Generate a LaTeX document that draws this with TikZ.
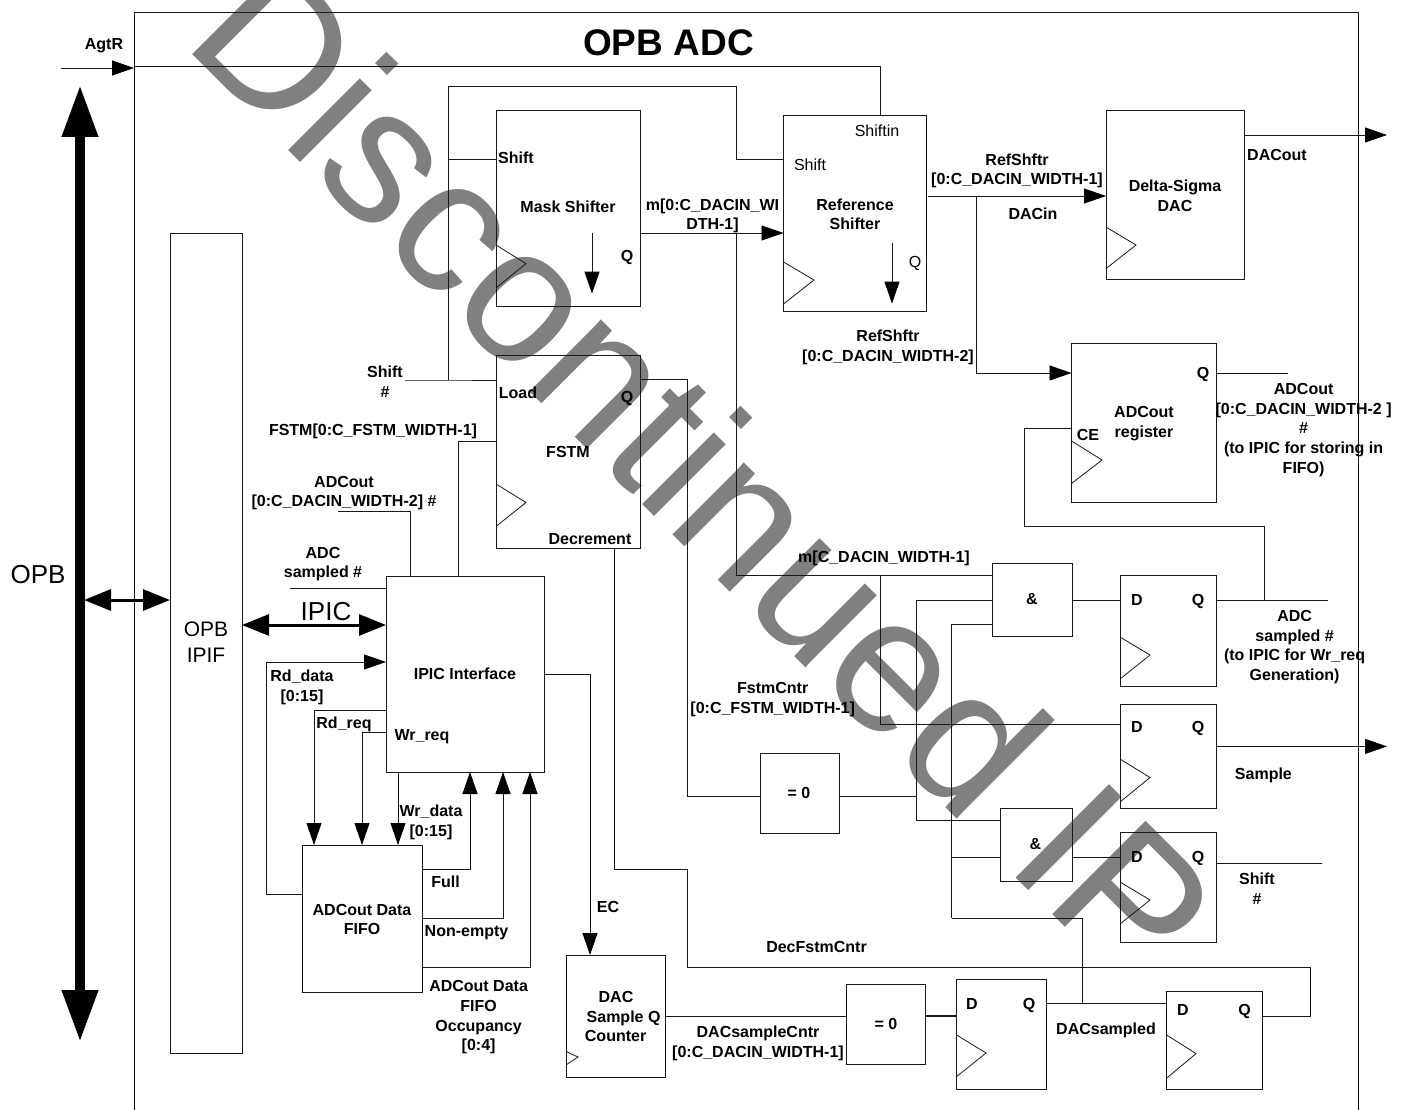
\documentclass[tikz,border=0pt]{standalone}
\usepackage{fontspec}
\setmainfont{Liberation Sans}
\usetikzlibrary{arrows.meta}
\tikzset{
  blockbox/.style={draw=black!90,line width=0.9pt,inner sep=0pt,outer sep=0pt,fill=none},
  wire/.style={draw=black!90,line width=0.9pt,line join=miter},
  tipwire/.style={wire,-{Triangle[length=22pt,width=15pt,sep=0pt,black]}},
  tick/.style={draw=black!90,line width=0.8pt},
  boldbus/.style={draw=black,line width=3pt,{Triangle[length=27pt,width=21pt,sep=0pt]}-{Triangle[length=27pt,width=21pt,sep=0pt]}},
  lb/.style={inner sep=0pt,outer sep=0pt,font=\fontsize{16}{19.7}\selectfont\bfseries,text=black,text height=11.5pt,text depth=0pt},
  lbm/.style={inner sep=0pt,outer sep=0pt,font=\fontsize{16}{19.7}\selectfont\bfseries,text=black,align=center,yshift=-1.5pt},
  lr/.style={inner sep=0pt,outer sep=0pt,font=\fontsize{16}{19.7}\selectfont,text=black,text height=11.5pt,text depth=0pt},
  big/.style={inner sep=0pt,outer sep=0pt,font=\fontsize{26}{26}\selectfont,text=black,text height=18.6pt,text depth=0pt},
  bigm/.style={inner sep=0pt,outer sep=0pt,font=\fontsize{21}{26}\selectfont,text=black,align=center},
}
\newcommand\blk[5]{%
  \pgfmathsetmacro\bw{#4-#2}\pgfmathsetmacro\bh{#5-#3}%
  \pgfmathsetmacro\bcx{(#2+#4)/2}\pgfmathsetmacro\bcy{(#3+#5)/2}%
  \node[blockbox,minimum width=\bw pt,minimum height=\bh pt] (#1) at (\bcx,\bcy) {};}
\newcommand\clk[5]{\draw[tick] (#1.west |- 0,#2) -- (#3,#4) -- (#1.west |- 0,#5);}
\begin{document}
\begin{tikzpicture}[x=1pt,y=-1pt]
\useasboundingbox (0,0) rectangle (1408,1110);
\fill[white] (0,0) rectangle (1408,1110);
\begin{scope}
\clip (0,0) rectangle (1408,1110);
\node[anchor=base west,rotate=-45,inner sep=0pt,text=black!50,font=\fontsize{192}{192}\selectfont] (wm) at (181,43) {Discontinued IP};
\end{scope}

% enclosing block
\coordinate (oa) at (134,1110); \coordinate (ob) at (134,12.5);
\coordinate (oc) at (1358,12.5); \coordinate (od) at (1358,1110);
\draw[wire] (oa) -- (ob) -- (oc) -- (od);
\node[inner sep=0pt,font=\fontsize{37}{37}\selectfont\bfseries,text height=26.5pt,text depth=0pt] (title) at (668.5,42) {OPB ADC};

% blocks
\blk{ipif}{170}{233}{242}{1053}
\blk{mask}{496}{110.7}{640}{306.4}
\blk{ref}{783.5}{115}{926}{311}
\blk{dac}{1106}{110.7}{1244}{279.6}
\blk{adcreg}{1071.5}{343}{1216}{502}
\blk{fstm}{496}{355}{640}{548}
\blk{ipic}{386}{576.5}{544}{772}
\blk{fifo}{302}{845}{422}{992}
\blk{cnt}{566}{955}{665.6}{1077.5}
\blk{zeroa}{760}{753}{839.5}{833.6}
\blk{zerob}{846.7}{984}{925.7}{1064.6}
\blk{anda}{992.5}{563}{1072}{636.5}
\blk{andb}{1000}{808}{1072}{881.4}
\blk{ffa}{1120}{575}{1216}{686}
\blk{ffb}{1120}{704}{1216}{808}
\blk{ffc}{1120}{832.5}{1216}{942}
\blk{ffd}{956}{979.6}{1046}{1089}
\blk{ffe}{1166}{991.4}{1262}{1089}

% clock marks
\clk{mask}{245}{526}{263.6}{288}
\clk{ref}{262}{814}{280}{304}
\clk{dac}{227}{1136}{245}{268.6}
\clk{adcreg}{441}{1102}{460}{483.5}
\clk{fstm}{484}{526}{502.5}{526.4}
\clk{cnt}{1051.4}{578}{1057}{1065}
\clk{ffa}{637}{1150}{655}{679}
\clk{ffb}{759}{1150}{777.5}{802}
\clk{ffc}{882}{1150}{900}{924}
\clk{ffd}{1034.6}{986}{1053}{1077}
\clk{ffe}{1034.6}{1196}{1053.6}{1078.6}

% bus arrows
\coordinate (bust) at (80,85); \coordinate (busb) at (80,1042);
\draw[line width=10pt,{Triangle[length=52pt,width=34pt,sep=0pt]}-{Triangle[length=52pt,width=34pt,sep=0pt]}] (bust) -- (busb);
\coordinate (busj) at (84,600);
\draw[boldbus] (busj) -- (ipif.west |- 0,600);
\draw[boldbus] (ipif.east |- 0,625) -- (ipic.west |- 0,625);

% free ends
\coordinate (agts) at (61,68);
\coordinate (agte) at (134,68);
\coordinate (shs) at (405,380);
\coordinate (dacend) at (1387,135);
\coordinate (smpend) at (1387,746.4);
\coordinate (adcoutend) at (1288,373);
\coordinate (sampledend) at (1327.5,600);
\coordinate (shiftend) at (1322,863);
\coordinate (adcoutin) at (338,511);
\coordinate (sampledin) at (290,588);
\coordinate (shiftbus) at (448,380);
\coordinate (jrefin) at (736,233);
\coordinate (jm) at (880,575);
\coordinate (jdac) at (976,196);
\coordinate (jq) at (1264,600);
\coordinate (jab) at (916,796);
\coordinate (jc) at (951.5,918);
\coordinate (jd) at (1082,1003.6);

% wires
\draw[tipwire] (agts) -- (agte);
\draw[wire] (ob |- 0,66) -- (880,66) -- (880,115);
\draw[wire] (shs) -- (shiftbus) -- (fstm.west |- 0,380);
\draw[wire] (shiftbus) -- (448,86) -- (736,86) -- (736,159) -- (ref.west |- 0,159);
\draw[wire] (448,159) -- (mask.west |- 0,159);
\draw[tipwire] (mask.east |- 0,233) -- (ref.west |- 0,233);
\draw[wire] (jrefin) -- (736,575) -- (anda.west |- 0,575);
\draw[wire] (jm) -- (880,724) -- (ffb.west |- 0,724);
\draw[tipwire] (928,196) -- (dac.west |- 0,196);
\draw[tipwire] (jdac) -- (976,373) -- (adcreg.west |- 0,373);
\draw[tipwire] (dac.east |- 0,135) -- (dacend);
\draw[wire] (adcreg.east |- 0,373) -- (adcoutend);
\draw[wire] (ffa.east |- 0,600) -- (sampledend);
\draw[wire] (jq) -- (1264,526.4) -- (1024,526.4) -- (1024,428.6) -- (adcreg.west |- 0,428.6);
\draw[wire] (anda.east |- 0,600) -- (ffa.west |- 0,600);
\draw[wire] (fstm.east |- 0,379) -- (687.5,379) -- (687.5,796) -- (zeroa.west |- 0,796);
\draw[wire] (614,548) -- (614,869.6) -- (687.5,869.6) -- (687.5,967) -- (1310,967) -- (1310,1016) -- (ffe.east |- 0,1016);
\draw[wire] (fstm.west |- 0,441.4) -- (458,441.4) -- (458,576.5);
\draw[wire] (adcoutin) -- (410,511) -- (410,576.5);
\draw[wire] (sampledin) -- (ipic.west |- 0,588);
\draw[tipwire] (fifo.west |- 0,894) -- (266,894) -- (266,662) -- (ipic.west |- 0,662);
\draw[tipwire] (ipic.west |- 0,710.7) -- (314,710.7) -- (314,845);
\draw[tipwire] (ipic.west |- 0,732) -- (362,732) -- (362,845);
\draw[tipwire] (398,772) -- (398,845);
\draw[tipwire] (fifo.east |- 0,869.6) -- (470,869.6) -- (470,772);
\draw[tipwire] (fifo.east |- 0,918) -- (503,918) -- (503,772);
\draw[tipwire] (fifo.east |- 0,967) -- (530,967) -- (530,772);
\draw[tipwire] (ipic.east |- 0,674) -- (590,674) -- (590,955);
\draw[wire] (cnt.east |- 0,1016.4) -- (zerob.west |- 0,1016.4);
\draw[wire,line width=2pt] (zerob.east |- 0,1016.4) -- (ffd.west |- 0,1016.4);
\draw[wire] (ffd.east |- 0,1003.6) -- (ffe.west |- 0,1003.6);
\draw[wire] (jd) -- (1082,918) -- (jc);
\draw[wire] (jc) -- (951.5,624) -- (anda.west |- 0,624);
\draw[wire] (951.5,857) -- (andb.west |- 0,857);
\draw[wire] (zeroa.east |- 0,796) -- (jab);
\draw[wire] (anda.west |- 0,600) -- (916,600) -- (916,820) -- (andb.west |- 0,820);
\draw[wire] (andb.east |- 0,857) -- (ffc.west |- 0,857);
\draw[tipwire] (ffb.east |- 0,746.4) -- (smpend);
\draw[wire] (ffc.east |- 0,863) -- (shiftend);

% small internal arrows
\coordinate (ma) at (592,233); \coordinate (mb) at (592,293.6);
\coordinate (ra) at (892,243); \coordinate (rb) at (892,303.6);
\draw[tipwire] (ma) -- (mb);
\draw[tipwire] (ra) -- (rb);

% labels
\node[lb] (l1) at (104,43.5) {AgtR};
\node[big] (l2) at (38,574) {OPB};
\node[bigm] (l3) at (206,642) {OPB\\IPIF};
\node[big] (l4) at (326,611) {IPIC};
\node[lb] (l5) at (465,673.5) {IPIC Interface};
\node[lb] (l6) at (516,158) {Shift};
\node[lb] (l7) at (568,207) {Mask Shifter};
\node[lb] (l8) at (627,256) {Q};
\node[lr] (l9) at (877,131) {Shiftin};
\node[lr] (l10) at (810,164.6) {Shift};
\node[lbm] (l11) at (855,212.8) {Reference\\Shifter};
\node[lr] (l12) at (915,262) {Q};
\node[lbm] (l13) at (712.5,214.5) {m[0:C\_DACIN\_WI\\DTH-1]};
\node[lb] (l14) at (884,556.5) {m[C\_DACIN\_WIDTH-1]};
\node[lb] (l15) at (1032,599) {\&};
\node[lb] (l16) at (1137,600) {D};
\node[lb] (l17) at (1198,600) {Q};
\node[lb] (l18) at (1203,373) {Q};
\node[lbm] (l19) at (1144,422) {ADCout\\register};
\node[lb] (l20) at (1088,434.6) {CE};
\node[lbm] (l21) at (1303.6,428.5) {ADCout\\{}[0:C\_DACIN\_WIDTH-2 ]\\\#\\(to IPIC for storing in\\FIFO)};
\node[lbm] (l22) at (1175,194) {Delta-Sigma\\DAC};
\node[lb] (l23) at (1277,154.6) {DACout};
\node[lbm] (l24) at (1017,169.5) {RefShftr\\{}[0:C\_DACIN\_WIDTH-1]};
\node[lb] (l25) at (1033,214) {DACin};
\node[lbm] (l26) at (888,346) {RefShftr\\{}[0:C\_DACIN\_WIDTH-2]};
\node[lbm] (l27) at (385,380) {Shift\\\#};
\node[lb] (l28) at (518,392.5) {Load};
\node[lb] (l29) at (627,397) {Q};
\node[lb] (l30) at (568,452) {FSTM};
\node[lb] (l31) at (590,538.6) {Decrement};
\node[lb] (l32) at (373,430) {FSTM[0:C\_FSTM\_WIDTH-1]};
\node[lbm] (l33) at (344,491.5) {ADCout\\{}[0:C\_DACIN\_WIDTH-2] \#};
\node[lbm] (l34) at (323,562.5) {ADC\\sampled \#};
\node[lbm] (l35) at (302,685.7) {Rd\_data\\{}[0:15]};
\node[lb] (l36) at (344,723) {Rd\_req};
\node[lb] (l37) at (422,735) {Wr\_req};
\node[lbm] (l38) at (431,821) {Wr\_data\\{}[0:15]};
\node[lbm] (l39) at (362,918) {ADCout Data\\FIFO};
\node[lb] (l40) at (445.5,881.4) {Full};
\node[lb] (l41) at (466.5,930.7) {Non-empty};
\node[lbm] (l42) at (478.6,1016) {ADCout Data\\FIFO\\Occupancy\\{}[0:4]};
\node[lb] (l43) at (608,906.4) {EC};
\node[lb] (l44) at (616,996.4) {DAC};
\node[lb] (l45) at (623.6,1016.8) {Sample Q};
\node[lb] (l46) at (615.6,1035.7) {Counter};
\node[lbm] (l47) at (758,1042) {DACsampleCntr\\{}[0:C\_DACIN\_WIDTH-1]};
\node[lb] (l48) at (886,1023.6) {= 0};
\node[lb] (l49) at (972,1004) {D};
\node[lb] (l50) at (1029,1004) {Q};
\node[lb] (l51) at (1106,1029) {DACsampled};
\node[lb] (l52) at (1183,1010) {D};
\node[lb] (l53) at (1244.5,1010) {Q};
\node[lb] (l54) at (816.5,947) {DecFstmCntr};
\node[lb] (l55) at (799,793) {= 0};
\node[lbm] (l56) at (772.7,698) {FstmCntr\\{}[0:C\_FSTM\_WIDTH-1]};
\node[lb] (l57) at (1035.4,844) {\&};
\node[lb] (l58) at (1137,726.4) {D};
\node[lb] (l59) at (1198,726.4) {Q};
\node[lb] (l60) at (1263.4,774) {Sample};
\node[lb] (l61) at (1137,857) {D};
\node[lb] (l62) at (1198,857) {Q};
\node[lbm] (l63) at (1257,887) {Shift\\\#};
\node[lbm] (l64) at (1294.6,645.5) {ADC\\sampled \#\\(to IPIC for Wr\_req\\Generation)};
\end{tikzpicture}
\end{document}
